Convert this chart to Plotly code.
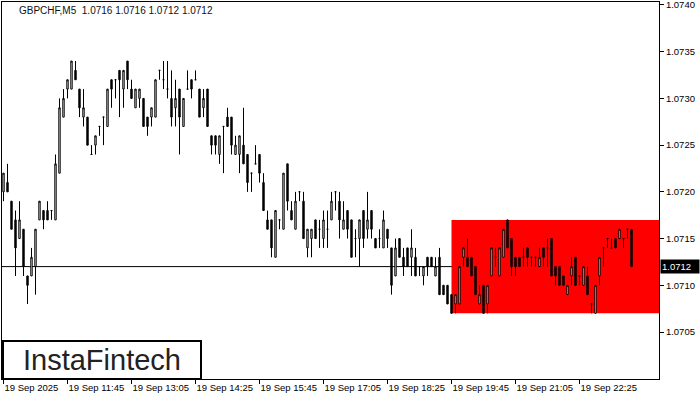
import pandas as pd
import plotly.graph_objects as go

symbol_header = "GBPCHF,M5  1.0716 1.0716 1.0712 1.0712"

opens = [1.0720, 1.0721, 1.0719, 1.0717, 1.0715, 1.0716, 1.0711, 1.0711, 1.0712, 1.0717,
         1.0718, 1.0718, 1.0718, 1.0717, 1.0722, 1.0728, 1.0731, 1.0731, 1.0733, 1.0731,
         1.0728, 1.0728, 1.0724, 1.0725, 1.0727, 1.0728, 1.0727, 1.0732, 1.0732, 1.0733,
         1.0731, 1.0734, 1.0731, 1.0729, 1.0730, 1.0730, 1.0728, 1.0728, 1.0728, 1.0733,
         1.0732, 1.0731, 1.0730, 1.0729, 1.0731, 1.0727, 1.0731, 1.0732, 1.0732, 1.0731,
         1.0729, 1.0731, 1.0726, 1.0726, 1.0724, 1.0727, 1.0728, 1.0728, 1.0724, 1.0724,
         1.0725, 1.0724, 1.0722, 1.0723, 1.0724, 1.0721, 1.0717, 1.0717, 1.0713, 1.0717,
         1.0716, 1.0723, 1.0718, 1.0716, 1.0720, 1.0719, 1.0714, 1.0715, 1.0717, 1.0716,
         1.0715, 1.0716, 1.0717, 1.0720, 1.0719, 1.0716, 1.0718, 1.0717, 1.0715, 1.0715,
         1.0718, 1.0716, 1.0718, 1.0715, 1.0715, 1.0714, 1.0716, 1.0714, 1.0711, 1.0715,
         1.0713, 1.0714, 1.0713, 1.0713, 1.0712, 1.0711, 1.0713, 1.0713, 1.0711, 1.0713,
         1.0710, 1.0710, 1.0709, 1.0708, 1.0708, 1.0713, 1.0713, 1.0713, 1.0712, 1.0708,
         1.0710, 1.0708, 1.0711, 1.0713, 1.0711, 1.0713, 1.0717, 1.0715, 1.0713, 1.0713,
         1.0713, 1.0714, 1.0713, 1.0713, 1.0712, 1.0714, 1.0714, 1.0715, 1.0712, 1.0712,
         1.0711, 1.0709, 1.0711, 1.0713, 1.0711, 1.0710, 1.0711, 1.0708, 1.0707, 1.0711,
         1.0714, 1.0715, 1.0714, 1.0715, 1.0715, 1.0715, 1.0716, 1.0716]

highs = [1.0722, 1.0723, 1.0719, 1.0718, 1.0719, 1.0716, 1.0711, 1.0714, 1.0716, 1.0719,
         1.0718, 1.0719, 1.0718, 1.0724, 1.0730, 1.0731, 1.0732, 1.0734, 1.0734, 1.0731,
         1.0731, 1.0728, 1.0725, 1.0726, 1.0727, 1.0728, 1.0731, 1.0732, 1.0732, 1.0733,
         1.0733, 1.0734, 1.0732, 1.0731, 1.0731, 1.0730, 1.0728, 1.0729, 1.0732, 1.0733,
         1.0734, 1.0734, 1.0733, 1.0732, 1.0731, 1.0730, 1.0733, 1.0732, 1.0733, 1.0731,
         1.0731, 1.0731, 1.0726, 1.0726, 1.0726, 1.0727, 1.0729, 1.0728, 1.0726, 1.0726,
         1.0729, 1.0724, 1.0722, 1.0725, 1.0724, 1.0722, 1.0718, 1.0717, 1.0718, 1.0717,
         1.0722, 1.0723, 1.0719, 1.0720, 1.0720, 1.0720, 1.0716, 1.0716, 1.0717, 1.0717,
         1.0718, 1.0718, 1.0720, 1.0720, 1.0720, 1.0719, 1.0718, 1.0717, 1.0716, 1.0717,
         1.0718, 1.0720, 1.0718, 1.0715, 1.0716, 1.0718, 1.0716, 1.0714, 1.0715, 1.0715,
         1.0714, 1.0714, 1.0716, 1.0714, 1.0712, 1.0712, 1.0713, 1.0713, 1.0713, 1.0714,
         1.0710, 1.0710, 1.0709, 1.0709, 1.0712, 1.0714, 1.0715, 1.0713, 1.0712, 1.0710,
         1.0710, 1.0710, 1.0714, 1.0714, 1.0714, 1.0716, 1.0717, 1.0715, 1.0713, 1.0713,
         1.0714, 1.0714, 1.0713, 1.0713, 1.0714, 1.0714, 1.0715, 1.0715, 1.0712, 1.0712,
         1.0711, 1.0710, 1.0713, 1.0713, 1.0711, 1.0712, 1.0712, 1.0708, 1.0710, 1.0713,
         1.0714, 1.0715, 1.0715, 1.0715, 1.0716, 1.0715, 1.0716, 1.0716]

lows = [1.0719, 1.0720, 1.0716, 1.0711, 1.0715, 1.0711, 1.0708, 1.0711, 1.0709, 1.0717,
        1.0716, 1.0717, 1.0717, 1.0717, 1.0722, 1.0728, 1.0730, 1.0731, 1.0732, 1.0728,
        1.0727, 1.0725, 1.0724, 1.0724, 1.0726, 1.0725, 1.0727, 1.0729, 1.0730, 1.0728,
        1.0729, 1.0731, 1.0730, 1.0729, 1.0729, 1.0727, 1.0726, 1.0727, 1.0728, 1.0732,
        1.0731, 1.0730, 1.0727, 1.0727, 1.0724, 1.0727, 1.0731, 1.0730, 1.0732, 1.0728,
        1.0728, 1.0727, 1.0724, 1.0724, 1.0723, 1.0722, 1.0727, 1.0724, 1.0724, 1.0722,
        1.0723, 1.0720, 1.0720, 1.0723, 1.0721, 1.0718, 1.0716, 1.0713, 1.0713, 1.0716,
        1.0716, 1.0718, 1.0717, 1.0716, 1.0719, 1.0715, 1.0713, 1.0713, 1.0715, 1.0714,
        1.0714, 1.0714, 1.0717, 1.0718, 1.0715, 1.0716, 1.0715, 1.0713, 1.0713, 1.0712,
        1.0714, 1.0715, 1.0715, 1.0714, 1.0714, 1.0714, 1.0714, 1.0709, 1.0711, 1.0713,
        1.0711, 1.0712, 1.0711, 1.0711, 1.0711, 1.0710, 1.0711, 1.0712, 1.0711, 1.0709,
        1.0709, 1.0708, 1.0707, 1.0707, 1.0708, 1.0712, 1.0712, 1.0711, 1.0709, 1.0708,
        1.0707, 1.0707, 1.0711, 1.0712, 1.0711, 1.0713, 1.0714, 1.0711, 1.0711, 1.0712,
        1.0712, 1.0712, 1.0712, 1.0712, 1.0712, 1.0712, 1.0712, 1.0711, 1.0710, 1.0710,
        1.0710, 1.0709, 1.0710, 1.0710, 1.0710, 1.0710, 1.0709, 1.0707, 1.0707, 1.0710,
        1.0712, 1.0714, 1.0714, 1.0714, 1.0715, 1.0714, 1.0715, 1.0712]

closes = [1.0722, 1.0720, 1.0716, 1.0714, 1.0717, 1.0712, 1.0710, 1.0713, 1.0716, 1.0719,
          1.0717, 1.0717, 1.0718, 1.0723, 1.0729, 1.0730, 1.0732, 1.0734, 1.0732, 1.0729,
          1.0729, 1.0725, 1.0724, 1.0726, 1.0727, 1.0728, 1.0731, 1.0731, 1.0732, 1.0732,
          1.0733, 1.0732, 1.0730, 1.0731, 1.0731, 1.0727, 1.0727, 1.0729, 1.0732, 1.0733,
          1.0732, 1.0731, 1.0728, 1.0730, 1.0728, 1.0730, 1.0731, 1.0731, 1.0732, 1.0728,
          1.0730, 1.0727, 1.0725, 1.0725, 1.0726, 1.0727, 1.0727, 1.0725, 1.0725, 1.0726,
          1.0723, 1.0721, 1.0722, 1.0723, 1.0722, 1.0718, 1.0716, 1.0714, 1.0718, 1.0717,
          1.0722, 1.0719, 1.0717, 1.0719, 1.0720, 1.0715, 1.0716, 1.0716, 1.0715, 1.0716,
          1.0717, 1.0716, 1.0719, 1.0720, 1.0717, 1.0717, 1.0716, 1.0713, 1.0715, 1.0717,
          1.0715, 1.0717, 1.0716, 1.0714, 1.0715, 1.0717, 1.0715, 1.0710, 1.0714, 1.0713,
          1.0712, 1.0712, 1.0714, 1.0711, 1.0712, 1.0712, 1.0712, 1.0712, 1.0712, 1.0709,
          1.0709, 1.0708, 1.0707, 1.0709, 1.0712, 1.0714, 1.0712, 1.0711, 1.0709, 1.0709,
          1.0707, 1.0710, 1.0714, 1.0713, 1.0714, 1.0716, 1.0714, 1.0712, 1.0712, 1.0712,
          1.0713, 1.0713, 1.0713, 1.0713, 1.0713, 1.0713, 1.0714, 1.0711, 1.0711, 1.0710,
          1.0710, 1.0710, 1.0712, 1.0710, 1.0711, 1.0712, 1.0709, 1.0708, 1.0710, 1.0713,
          1.0714, 1.0715, 1.0714, 1.0714, 1.0716, 1.0715, 1.0716, 1.0712]

x_tick_labels = ["19 Sep 2025", "19 Sep 11:45", "19 Sep 13:05", "19 Sep 14:25", "19 Sep 15:45",
                 "19 Sep 17:05", "19 Sep 18:25", "19 Sep 19:45", "19 Sep 21:05", "19 Sep 22:25"]
y_tick_values = [1.0705, 1.0710, 1.0715, 1.0720, 1.0725, 1.0730, 1.0735, 1.0740]

zone_start_index = 112
zone_low, zone_high = 1.0707, 1.0717
bid_price = 1.0712

times = pd.date_range("2025-09-19 10:25", periods=len(opens), freq="5min")
step = pd.Timedelta(minutes=5)
x_start = times[0] - 0.375 * step
x_end = x_start + 164.25 * step

FONT = "Liberation Sans, Arial, sans-serif"

fig = go.Figure()
fig.add_trace(go.Candlestick(
    x=times, open=opens, high=highs, low=lows, close=closes,
    increasing=dict(line=dict(color="black", width=1), fillcolor="white"),
    decreasing=dict(line=dict(color="black", width=1), fillcolor="black"),
    whiskerwidth=0, hoverinfo="skip", showlegend=False,
))

fig.add_shape(type="rect", xref="x", yref="y",
              x0=times[zone_start_index], x1=x_end, y0=zone_low, y1=zone_high,
              fillcolor="#FF0000", line=dict(width=0), layer="below")
fig.add_shape(type="line", xref="paper", yref="y", x0=0, x1=1, y0=bid_price, y1=bid_price,
              line=dict(color="black", width=1), layer="below")

# logo box
W, H = 657.0, 377.0
fig.add_shape(type="rect", xref="paper", yref="paper",
              x0=(3 - 2) / W, x1=(201 - 2) / W, y0=0.0, y1=(379 - 341) / H,
              line=dict(color="black", width=2), fillcolor="white", layer="above")

fig.add_annotation(xref="paper", yref="paper", x=(102 - 2) / W, y=(379 - 360) / H,
                   text="InstaFintech", showarrow=False, xanchor="center", yanchor="middle",
                   font=dict(family=FONT, size=29, color="#222222"))
fig.add_annotation(xref="paper", yref="paper", x=(17 - 2) / W, y=(379 - 11) / H,
                   text=symbol_header, showarrow=False, xanchor="left", yanchor="middle",
                   font=dict(family=FONT, size=10, color="#111111"))
fig.add_annotation(xref="paper", yref="y", x=1, y=bid_price, text=f"{bid_price:.4f}",
                   showarrow=False, xanchor="left", yanchor="middle", align="left",
                   bgcolor="black", borderpad=1, width=36, xshift=1,
                   font=dict(family=FONT, size=9.5, color="white"))

fig.update_layout(
    width=700, height=400,
    margin=dict(l=2, r=41, t=2, b=21, autoexpand=False),
    paper_bgcolor="white", plot_bgcolor="white",
    showlegend=False,
    boxgap=0.5,
    xaxis=dict(type="date", range=[x_start, x_end], showgrid=False, zeroline=False,
               showline=True, mirror=True, linecolor="black", linewidth=1,
               ticks="outside", ticklen=4, tickcolor="black",
               tickvals=list(times[::16]), ticktext=x_tick_labels,
               ticklabelposition="outside right", tickangle=0, automargin=False,
               ticklabeloverflow="allow",
               tickfont=dict(family=FONT, size=9.5, color="black"),
               rangeslider=dict(visible=False), fixedrange=True),
    yaxis=dict(side="right", range=[1.069997, 1.074032], showgrid=False, zeroline=False,
               showline=True, mirror=True, linecolor="black", linewidth=1,
               ticks="outside", ticklen=4, tickcolor="black", automargin=False,
               ticklabeloverflow="allow",
               tickvals=y_tick_values, ticktext=[f"{v:.4f}" for v in y_tick_values],
               tickfont=dict(family=FONT, size=9.5, color="black"), fixedrange=True),
)

fig.write_html("out.html", config={"displayModeBar": False, "staticPlot": True},
               post_script="document.body.style.margin='0';document.body.style.padding='0';")
